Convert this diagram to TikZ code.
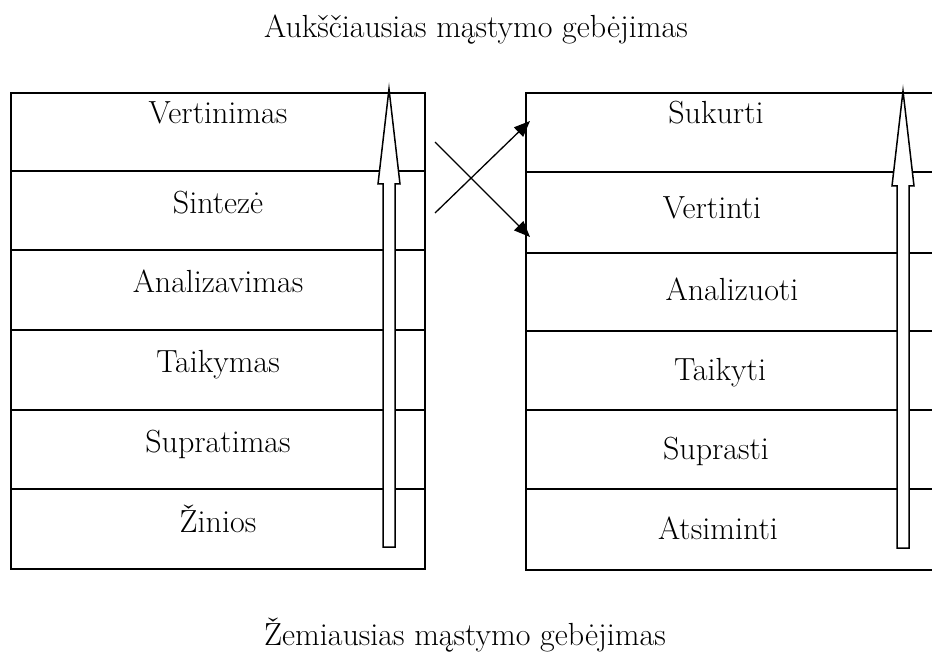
\documentclass[tikz,border=0pt]{standalone}
\usepackage{fontspec}
\setmainfont{Latin Modern Roman}
\usetikzlibrary{arrows.meta}
\tikzset{
  rowbox/.style={draw, line width=1.5pt, rectangle, inner sep=0pt, minimum width=414pt},
  lbl/.style={anchor=base, inner sep=0pt, font=\fontsize{32}{38}\selectfont},
  uparrow/.style={draw, fill=white, line width=1.5pt, line join=miter},
  crossarrow/.style={draw, line width=1.3pt, -{Triangle[length=16pt,width=13pt]}}
}
\begin{document}
\begin{tikzpicture}[x=1pt,y=-1pt]
\useasboundingbox (0,0) rectangle (932,660);
\clip (0,0) rectangle (932,660);
% titles
\node[lbl] (top) at (476,38) {Aukščiausias mąstymo gebėjimas};
\node[lbl] (bottom) at (465,645) {Žemiausias mąstymo gebėjimas};
% left column rows
\node[rowbox, minimum height=78pt] (L1) at (218,132) {};
\node[rowbox, minimum height=79pt] (L2) at (218,210.5) {};
\node[rowbox, minimum height=80pt] (L3) at (218,290) {};
\node[rowbox, minimum height=80pt] (L4) at (218,370) {};
\node[rowbox, minimum height=79pt] (L5) at (218,449.5) {};
\node[rowbox, minimum height=80pt] (L6) at (218,529) {};
% right column rows
\node[rowbox, minimum height=79pt] (R1) at (733,132.5) {};
\node[rowbox, minimum height=81pt] (R2) at (733,212.5) {};
\node[rowbox, minimum height=78pt] (R3) at (733,292) {};
\node[rowbox, minimum height=79pt] (R4) at (733,370.5) {};
\node[rowbox, minimum height=79pt] (R5) at (733,449.5) {};
\node[rowbox, minimum height=81pt] (R6) at (733,529.5) {};
% left labels
\node[lbl] (tL1) at (218,124) {Vertinimas};
\node[lbl] (tL2) at (218,214) {Sintezė};
\node[lbl] (tL3) at (218,293) {Analizavimas};
\node[lbl] (tL4) at (218,373) {Taikymas};
\node[lbl] (tL5) at (218,452) {Supratimas};
\node[lbl] (tL6) at (218,532) {Žinios};
% right labels
\node[lbl] (tR1) at (716,124) {Sukurti};
\node[lbl] (tR2) at (712,219) {Vertinti};
\node[lbl] (tR3) at (732,301) {Analizuoti};
\node[lbl] (tR4) at (720,381) {Taikyti};
\node[lbl] (tR5) at (716,459) {Suprasti};
\node[lbl] (tR6) at (718,539) {Atsiminti};
% hollow up arrows
\path[uparrow] (389,89) -- (400,184) -- (395,184) -- (395,547) -- (383,547) -- (383,184) -- (378,184) -- cycle;
\path[uparrow] (903,91) -- (914,186) -- (909,186) -- (909,548) -- (897,548) -- (897,186) -- (892,186) -- cycle;
% crossing arrows
\coordinate (c1) at (435,142);
\coordinate (c2) at (530,121);
\coordinate (c3) at (435,213);
\coordinate (c4) at (530,237);
\draw[crossarrow] (c1) -- (c4);
\draw[crossarrow] (c3) -- (c2);
\end{tikzpicture}
\end{document}
